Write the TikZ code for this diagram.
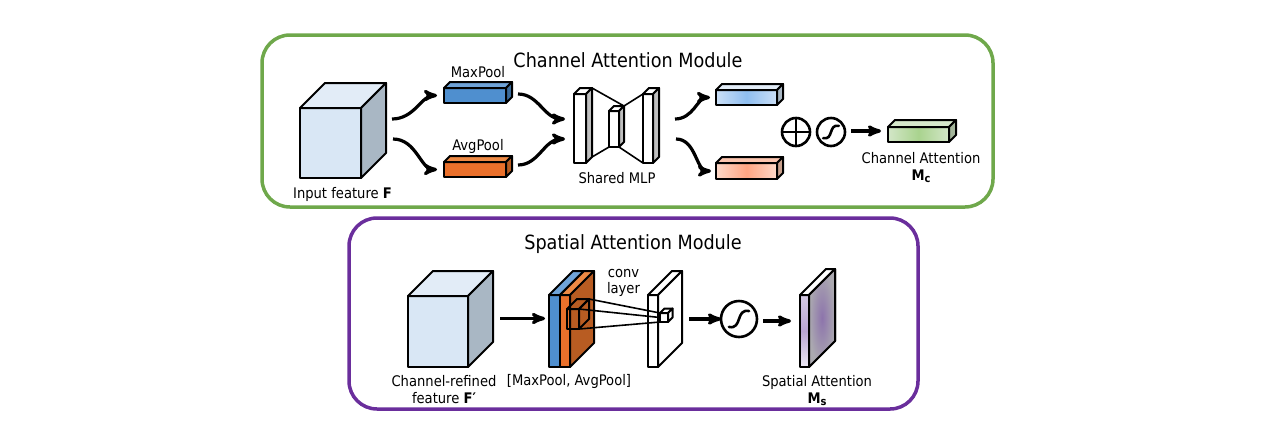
\documentclass[tikz,border=0pt]{standalone}
\usepackage{fontspec}
\setmainfont{DejaVu Sans Condensed}
\usetikzlibrary{arrows}

\definecolor{boxgreen}{HTML}{6FA84B}
\definecolor{boxpurple}{HTML}{6A2E9C}
\definecolor{cubefront}{HTML}{D9E7F5}
\definecolor{cubetop}{HTML}{E2ECF7}
\definecolor{cubeside}{HTML}{A9B7C4}
\definecolor{poolblue}{HTML}{4F8FCF}
\definecolor{pooltop}{HTML}{6FA3D8}
\definecolor{poolorange}{HTML}{EA702B}
\definecolor{poolotop}{HTML}{EE8A45}
\definecolor{poolbrown}{HTML}{B85C22}
\definecolor{blueedge}{HTML}{CBDFF6}
\definecolor{bluemid}{HTML}{8FBEF0}
\definecolor{orangeedge}{HTML}{FDD8C8}
\definecolor{orangemid}{HTML}{FFA583}
\definecolor{orangetop}{HTML}{FBC4AE}
\definecolor{orangeside}{HTML}{C9A08C}
\definecolor{greenedge}{HTML}{D3E6C8}
\definecolor{greenmid}{HTML}{A9D38E}
\definecolor{greentop}{HTML}{D6E8CB}
\definecolor{greenside}{HTML}{A3B59A}
\definecolor{maptop}{HTML}{D4C9E4}
\definecolor{mapmid}{HTML}{B9A5D2}
\definecolor{mapbot}{HTML}{EDE9F5}
\definecolor{mapcore}{HTML}{8D74AC}
\definecolor{mapside}{HTML}{ABA9B0}

\tikzset{
  module/.style={draw,line width=3.5pt,rounded corners=28pt},
  face/.style={draw,line width=2pt,line join=round,inner sep=0pt,outer sep=0pt},
  label/.style={font=\fontsize{14.6}{15}\selectfont,inner sep=0pt,align=center},
  title/.style={font=\fontsize{19.6}{22}\selectfont,inner sep=0pt},
  wave/.style={->,line width=3.2pt,out=0,in=180,shorten >=7pt},
  flow/.style={->,line width=3.2pt},
  thinline/.style={line width=1.6pt},
  oper/.style={draw,circle,line width=2.6pt,inner sep=0pt,outer sep=0pt},
  plusop/.style={oper,minimum size=28pt,path picture={
      \draw[line width=2.6pt] (path picture bounding box.north) -- (path picture bounding box.south);
      \draw[line width=2.6pt] (path picture bounding box.west) -- (path picture bounding box.east);}},
  sigop/.style={oper,path picture={
      \draw[line width=2.6pt,line cap=round] ([shift={(-0.28*#1,-0.22*#1)}]path picture bounding box.center)
        .. controls ([shift={(0.1*#1,-0.3*#1)}]path picture bounding box.center)
        and ([shift={(-0.1*#1,0.3*#1)}]path picture bounding box.center)
        .. ([shift={(0.28*#1,0.22*#1)}]path picture bounding box.center);}},
}

% name, centre, width, height, depth, front style, top colour, side colour
\newcommand{\cuboid}[8]{%
  \node[face,minimum width=#3pt,minimum height=#4pt,#6] (#1) at (#2) {};
  \coordinate (#1 b) at ([shift={(#5,-#5)}]#1.north east);
  \coordinate (#1 c) at ([shift={(#5,-#5)}]#1.south east);
  \draw[face,fill=#7] (#1.north west) -- ([shift={(#5,-#5)}]#1.north west) -- (#1 b) -- (#1.north east) -- cycle;
  \draw[face,fill=#8] (#1.north east) -- (#1 b) -- (#1 c) -- (#1.south east) -- cycle;
}

\begin{document}
\begin{tikzpicture}[x=1pt,y=-1pt,>=stealth']
  \useasboundingbox (0,0) rectangle (1276,424);

  % channel attention
  \node[module,draw=boxgreen,minimum width=731pt,minimum height=172pt] (chbox) at (627.5,121) {};
  \node[title] (chtitle) at (628,60.5) {Channel Attention Module};

  \cuboid{inF}{330.5,143}{61}{70}{25}{fill=cubefront}{cubetop}{cubeside}
  \cuboid{maxp}{475,95.5}{62}{15}{6}{fill=poolblue}{pooltop}{poolblue!75!black}
  \cuboid{avgp}{475,169.5}{62}{15}{6}{fill=poolorange}{poolotop}{poolbrown}
  \cuboid{mlpa}{580,128.5}{12}{69}{6}{fill=white}{white}{black!25}
  \cuboid{mlpb}{614,129}{10}{36}{5}{fill=white}{white}{black!25}
  \cuboid{mlpc}{648,128.5}{10}{69}{6}{fill=white}{white}{black!25}
  \cuboid{outb}{746.5,97.5}{61}{15}{6}{left color=blueedge,right color=blueedge,middle color=bluemid}{cubetop}{cubeside}
  \cuboid{outo}{746.5,171}{61}{16}{6}{left color=orangeedge,right color=orangeedge,middle color=orangemid}{orangetop}{orangeside}
  \cuboid{outg}{918.5,134.5}{61}{15}{7}{left color=greenedge,right color=greenedge,middle color=greenmid}{greentop}{greenside}

  \draw[thinline] (mlpa b) -- (mlpb b);
  \draw[thinline] (mlpa c) -- (mlpb.south west);
  \draw[thinline] (mlpc.north west) -- (mlpb b);
  \draw[thinline] (mlpc.south west) -- (mlpb.south east);

  \node[plusop] (plus) at (796,132) {};
  \node[sigop=28pt,minimum size=28pt] (sigc) at (831,132) {};

  \coordinate (inup) at (392,119);
  \coordinate (indn) at (393,139);
  \coordinate (mlpup) at (565,119);
  \coordinate (mlpdn) at (565,139);
  \coordinate (mlpoutup) at (675,119);
  \coordinate (mlpoutdn) at (676,139);
  \coordinate (maxpout) at (518,94);
  \coordinate (avgpout) at (518,165);
  \coordinate (sigcout) at (851,131);
  \coordinate (outgin) at (881,131);

  \path (inup) edge[wave] (maxp)
        (indn) edge[wave] (avgp)
        (maxpout) edge[wave,shorten >=0pt] (mlpup)
        (avgpout) edge[wave,shorten >=0pt] (mlpdn)
        (mlpoutup) edge[wave,shorten >=6pt] (outb)
        (mlpoutdn) edge[wave,shorten >=5pt] (outo);
  \draw[flow] (sigcout) -- (outgin);

  \node[label] (lmax) at (478,72) {MaxPool};
  \node[label] (lavg) at (478,146) {AvgPool};
  \node[label] (lin) at (342.5,194) {Input feature \textbf{F}};
  \node[label] (lmlp) at (617,178) {Shared MLP};
  \node[label] (lmc) at (921,167.5) {Channel Attention\\[2pt]\textbf{M}\raisebox{-2pt}{\fontsize{11}{11}\selectfont\bfseries c}};

  % spatial attention
  \node[module,draw=boxpurple,minimum width=569pt,minimum height=191pt] (spbox) at (633.5,313.5) {};
  \node[title] (sptitle) at (633,244.5) {Spatial Attention Module};

  \cuboid{refF}{438,331.5}{60}{71}{25}{fill=cubefront}{cubetop}{cubeside}
  \cuboid{stackb}{554.5,331}{11}{72}{24}{fill=poolblue}{pooltop}{poolblue!75!black}
  \cuboid{stacko}{565,331}{10}{72}{24}{fill=poolorange}{poolotop}{poolbrown}
  \cuboid{kern}{573,319}{12}{20}{10}{fill=none}{none}{none}
  \cuboid{conv}{653,331}{10}{72}{24}{fill=white}{white}{white}
  \cuboid{kernout}{664,317.5}{8}{9}{4.5}{fill=white}{white}{white}

  \draw[thinline] (kern b) -- (kernout.north west);
  \draw[thinline] (kern.north east) -- (kernout.west);
  \draw[thinline] (kern.south east) -- (kernout.south west);

  \node[sigop=36pt,minimum size=36pt] (sigs) at (739,319) {};
  \cuboid{maps}{804.5,331}{9}{72}{26}{top color=maptop,bottom color=mapbot,middle color=mapmid}{white}{none}
  \shade[inner color=mapcore,outer color=mapside] (maps.north east) -- (maps b) -- (maps c) -- (maps.south east) -- cycle;
  \draw[face] (maps.north east) -- (maps b) -- (maps c) -- (maps.south east) -- cycle;

  \coordinate (refout) at (500,318.5);
  \coordinate (stackin) at (545,318.5);
  \coordinate (convout) at (689,319);
  \coordinate (sigsout) at (763,321);
  \coordinate (mapsin) at (791,321);
  \draw[flow] (refout) -- (stackin);
  \draw[flow,shorten >=0pt] (convout) -- (sigs.west);
  \draw[flow] (sigsout) -- (mapsin);

  \node[label] (lconv) at (623.5,283) {conv\\[1pt]layer};
  \node[label] (lref) at (444,390) {Channel-refined\\[2pt]feature \textbf{F′}};
  \node[label] (lstack) at (569,381) {[MaxPool, AvgPool]};
  \node[label] (lms) at (817,390.5) {Spatial Attention\\[2pt]\textbf{M}\raisebox{-2pt}{\fontsize{11}{11}\selectfont\bfseries s}};
\end{tikzpicture}
\end{document}
